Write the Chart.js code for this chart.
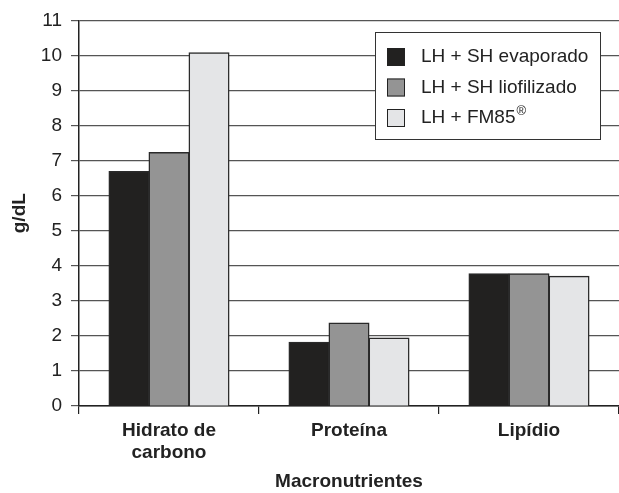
<!DOCTYPE html>
<html>
<head>
<meta charset="utf-8">
<script src="https://cdn.jsdelivr.net/npm/chart.js@4"></script>
<style>
  body { margin: 0; background: #fff; }
</style>
</head>
<body>
<canvas id="grafico" width="619" height="493"></canvas>
<script>
const categorias = [['Hidrato de', 'carbono'], 'Proteína', 'Lipídio'];
const evaporado = [6.69, 1.82, 3.77];
const liofilizado = [7.23, 2.37, 3.77];
const fm85 = [10.08, 1.94, 3.70];
const rotulos = ['LH + SH evaporado', 'LH + SH liofilizado', 'LH + FM85'];
const cores = ['#222120', '#949494', '#e4e5e7'];
const yTicks = [0, 1, 2, 3, 4, 5, 6, 7, 8, 9, 10, 11];

const fonte = 'Arial, "Liberation Sans", Helvetica, sans-serif';

// legenda desenhada a mao, caixa branca por cima das linhas de grade
const legendaBox = {
    id: 'legendaBox',
    afterDraw(chart) {
        const ctx = chart.ctx;
        const x0 = 375, y0 = 32, w = 225, h = 107;
        ctx.save();
        ctx.fillStyle = '#fff';
        ctx.fillRect(x0, y0, w, h);
        ctx.strokeStyle = '#333';
        ctx.lineWidth = 1;
        ctx.strokeRect(x0 + 0.5, y0 + 0.5, w, h);
        chart.data.datasets.forEach((ds, i) => {
            const cy = 57 + i * 30.5;
            ctx.fillStyle = ds.backgroundColor;
            ctx.fillRect(387, cy - 9, 18, 18);
            ctx.strokeStyle = '#222';
            ctx.strokeRect(387.5, cy - 8.5, 17, 17);
            ctx.fillStyle = '#222';
            ctx.font = '19px ' + fonte;
            ctx.textBaseline = 'middle';
            ctx.textAlign = 'left';
            ctx.fillText(ds.label, 421, cy);
            if (i === 2) {
                const tw = ctx.measureText(ds.label).width;
                ctx.font = '13px ' + fonte;
                ctx.fillText('®', 421 + tw + 1, cy - 7);
            }
        });
        ctx.restore();
    }
};

const ctx = document.getElementById('grafico').getContext('2d');
new Chart(ctx, {
    type: 'bar',
    data: {
        labels: categorias,
        datasets: [
            { label: rotulos[0], data: evaporado, backgroundColor: cores[0] },
            { label: rotulos[1], data: liofilizado, backgroundColor: cores[1] },
            { label: rotulos[2], data: fm85, backgroundColor: cores[2] }
        ]
    },
    options: {
        responsive: false,
        animation: false,
        layout: { padding: { top: 18, left: 0, right: 0, bottom: 0 } },
        datasets: {
            bar: {
                barPercentage: 1,
                categoryPercentage: 0.667,
                borderColor: '#2a2a2a',
                borderWidth: 1.5,
                inflateAmount: 0.5
            }
        },
        plugins: {
            legend: { display: false },
            tooltip: { enabled: false }
        },
        scales: {
            x: {
                afterFit: s => { s.height = 87; },
                grid: {
                    display: true,
                    offset: true,
                    drawOnChartArea: false,
                    drawTicks: true,
                    tickLength: 8,
                    color: '#222',
                    lineWidth: 1.2
                },
                border: { display: true, color: '#222', width: 1.5 },
                ticks: {
                    color: '#222',
                    padding: 6,
                    font: { family: fonte, size: 19, weight: 'bold', lineHeight: 1.15 }
                },
                title: {
                    display: true,
                    text: 'Macronutrientes',
                    color: '#222',
                    padding: { top: 0, bottom: 0 },
                    font: { family: fonte, size: 19, weight: 'bold', lineHeight: 1.15 }
                }
            },
            y: {
                min: 0,
                max: 11,
                afterFit: s => { s.width = 79; },
                afterBuildTicks: s => { s.ticks = yTicks.map(v => ({ value: v })); },
                grid: {
                    color: '#555',
                    lineWidth: 1.2,
                    tickLength: 8
                },
                border: { display: true, color: '#222', width: 1.5 },
                ticks: {
                    color: '#222',
                    padding: 9,
                    font: { family: fonte, size: 19 }
                },
                title: {
                    display: true,
                    text: 'g/dL',
                    color: '#222',
                    padding: { top: 9, bottom: 0 },
                    font: { family: fonte, size: 19, weight: 'bold', lineHeight: 1.15 }
                }
            }
        }
    },
    plugins: [legendaBox]
});
</script>
</body>
</html>
